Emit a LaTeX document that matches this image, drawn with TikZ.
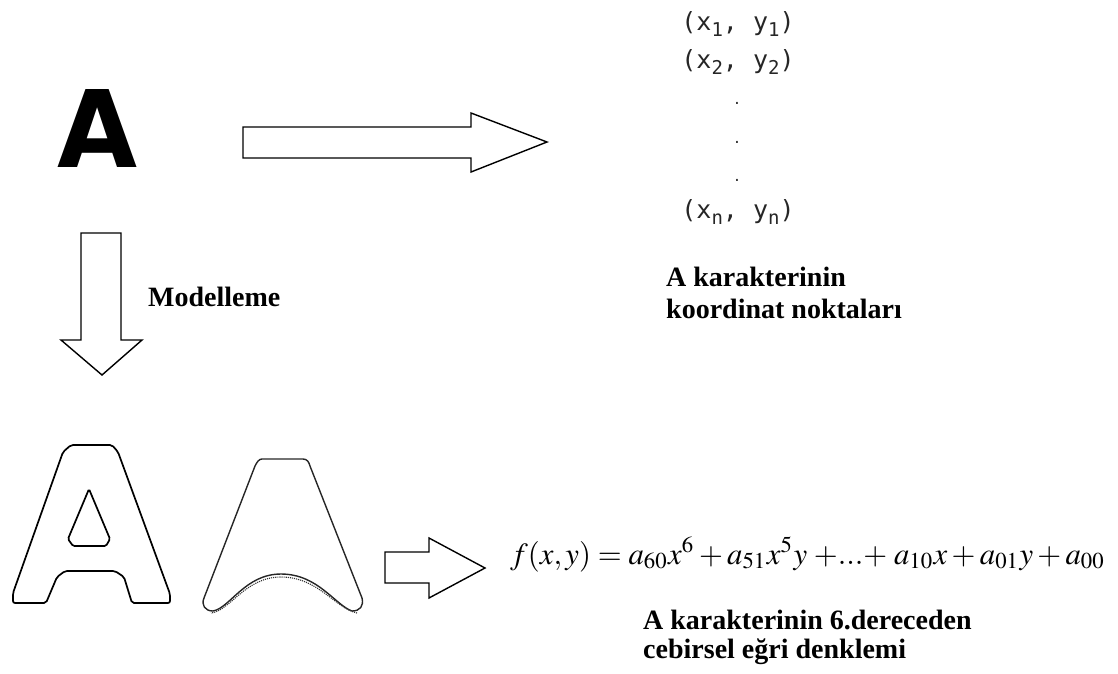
\documentclass[tikz,border=0pt]{standalone}
\usepackage{mathptmx}
\usepackage[no-math]{fontspec}
\setmainfont{Liberation Serif}
\newfontfamily\monof{DejaVu Sans Mono}
\newfontfamily\sansb{DejaVu Sans}
\newcommand{\sbs}[1]{{\fontsize{19}{19}\selectfont\raisebox{-6pt}{#1}}}
\tikzset{
  bigarrow/.style={draw=black, line width=1.4pt, fill=white, line join=miter},
  outline/.style={draw=black, line width=1.7pt, rounded corners=2pt},
  smooth outline/.style={draw=black!85, line width=1.4pt},
  caption/.style={font=\fontsize{28}{32}\selectfont\bfseries, inner sep=0pt, anchor=base west},
  coord/.style={font=\monof\fontsize{25}{25}\selectfont, text=black!85, inner sep=0pt, anchor=base},
  dotnode/.style={font=\monof\fontsize{14}{14}\selectfont, text=black!85, inner sep=0pt}
}
\begin{document}
\begin{tikzpicture}[x=1pt,y=-1pt]
\useasboundingbox (0,0) rectangle (1118,673);

% big letter A
\node[inner sep=0pt] (bigA) at (98,128) {\resizebox{80pt}{78pt}{\sansb\bfseries A}};

% right arrow
\draw[bigarrow] (243,127) -- (471,127) -- (471,113) -- (547,142) -- (471,172) -- (471,158) -- (243,158) -- cycle;

% coordinates list
\node[coord] (c1) at (738,30) {(x\sbs{1}, y\sbs{1})};
\node[coord] (c2) at (738,68) {(x\sbs{2}, y\sbs{2})};
\node[dotnode] (d1) at (737,103) {.};
\node[dotnode] (d2) at (737,142) {.};
\node[dotnode] (d3) at (737,180) {.};
\node[coord] (cn) at (738,218) {(x\sbs{n}, y\sbs{n})};

\node[caption] (cap1a) at (666,286) {A karakterinin};
\node[caption] (cap1b) at (666,318) {koordinat noktaları};

% down arrow
\draw[bigarrow] (81,233) -- (121,233) -- (121,340) -- (142,340) -- (102,375) -- (61,340) -- (81,340) -- cycle;
\node[caption] (model) at (148,306) {Modelleme};

% outline A (left)
\draw[outline] (71,445) -- (112,445) -- (118,452) -- (170,594) -- (170,603) -- (132,603)
  -- (124,577) -- (115,571) -- (65,571) -- (57,577) -- (46,603) -- (13,603) -- (13,593)
  -- (63,452) -- cycle;
\draw[outline, rounded corners=1.5pt] (89,489) -- (110,539) -- (106,546) -- (73,546) -- (68,539) -- cycle;

% smooth outline (right)
\draw[smooth outline] (262,459) -- (303,459) .. controls (307,459) and (309,462) .. (310,466)
  -- (362,598) .. controls (364,606) and (360,611) .. (352,611)
  .. controls (335,605) and (318,574) .. (281,574)
  .. controls (245,574) and (230,608) .. (213,611)
  .. controls (205,611) and (201,605) .. (204,598)
  -- (255,466) .. controls (257,462) and (259,459) .. (262,459) -- cycle;
\draw[black!80, line width=1.1pt, densely dotted] (357,613)
  .. controls (335,608) and (318,577) .. (281,577)
  .. controls (245,577) and (230,611) .. (211,613);

% small arrow
\draw[bigarrow] (385,552) -- (429,552) -- (429,538) -- (485,568) -- (429,598) -- (429,583) -- (385,583) -- cycle;

% equation
\node[inner sep=0pt, anchor=base west] (eq) at (510,564)
  {\resizebox{595pt}{!}{$f(x,y)=a_{60}x^{6}+a_{51}x^{5}y\;{+}{...}{+}\;a_{10}x+a_{01}y+a_{00}$}};

\node[caption] (cap2a) at (643,629) {A karakterinin 6.dereceden};
\node[caption] (cap2b) at (643,658) {cebirsel eğri denklemi};
\end{tikzpicture}
\end{document}
